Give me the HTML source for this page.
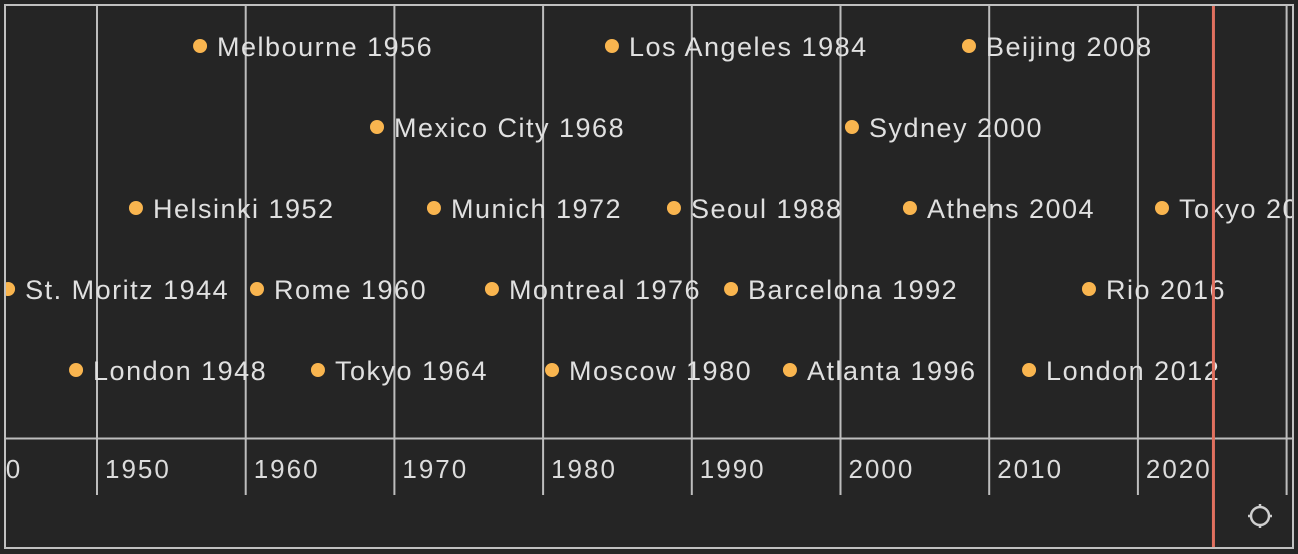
<!DOCTYPE html>
<html><head><meta charset="utf-8"><style>
html,body{margin:0;padding:0;background:#252525;}
svg{display:block;}
text{font-family:"Liberation Sans","DejaVu Sans",sans-serif;}
</style></head><body>
<svg id="chart" width="1298" height="554">
<defs><clipPath id="inner"><rect x="6" y="6" width="1286" height="541"/></clipPath></defs>
<rect x="0" y="0" width="1298" height="554" fill="#252525"/>
<g clip-path="url(#inner)">
<g id="grid"></g>
<g id="items"></g>
<line x1="5" y1="438.5" x2="1293" y2="438.5" stroke="#bdbdbd" stroke-width="2"/>
<g id="axis"></g>
</g>
<line id="now" x1="1214" y1="5" x2="1214" y2="549" stroke="#e0705f" stroke-width="3"/>
<rect x="5" y="5" width="1288" height="543" fill="none" stroke="#c0c0c0" stroke-width="2"/>
<g transform="translate(1260,516)">
<circle r="9" fill="none" stroke="#cfcfcf" stroke-width="2.5"/>
<line x1="0" y1="-12" x2="0" y2="-8" stroke="#cfcfcf" stroke-width="2.5"/>
<line x1="0" y1="8" x2="0" y2="12" stroke="#cfcfcf" stroke-width="2.5"/>
<line x1="-12" y1="0" x2="-8" y2="0" stroke="#cfcfcf" stroke-width="2.5"/>
<line x1="8" y1="0" x2="12" y2="0" stroke="#cfcfcf" stroke-width="2.5"/>
</g>
</svg>
<script>
const names = ["St. Moritz 1944","London 1948","Helsinki 1952","Melbourne 1956","Rome 1960","Tokyo 1964","Mexico City 1968","Munich 1972","Montreal 1976","Moscow 1980","Los Angeles 1984","Seoul 1988","Barcelona 1992","Atlanta 1996","Sydney 2000","Athens 2004","Beijing 2008","London 2012","Rio 2016","Tokyo 2020"];
const dates = [1944.02,1948.59,1952.62,1956.93,1960.76,1964.86,1968.83,1972.66,1976.56,1980.6,1984.63,1988.8,1992.64,1996.6,2000.77,2004.67,2008.64,2012.68,2016.71,2021.62];
const rows = [3,4,2,0,3,4,1,2,3,4,0,2,3,4,1,2,0,4,3,2];
const tickYears = [1940,1950,1960,1970,1980,1990,2000,2010,2020,2030];
const nowYear = 2025.08;

const NS="http://www.w3.org/2000/svg";
const x = y => 97 + (y-1950)*14.87;
const rowY = r => 46 + r*81;
const grid=document.getElementById('grid'), axis=document.getElementById('axis'), items=document.getElementById('items');
document.getElementById('now').setAttribute('x1',x(nowYear));
document.getElementById('now').setAttribute('x2',x(nowYear));
tickYears.forEach(t=>{
  const l=document.createElementNS(NS,'line');
  l.setAttribute('x1',x(t));l.setAttribute('x2',x(t));l.setAttribute('y1',5);l.setAttribute('y2',495);
  l.setAttribute('stroke','#bdbdbd');l.setAttribute('stroke-width','2');
  
  
  grid.appendChild(l);
  const tx=document.createElementNS(NS,'text');
  tx.setAttribute('x',x(t)+8);tx.setAttribute('y',478);
  tx.setAttribute('fill','#dcdcdc');tx.setAttribute('font-size','26');
  tx.setAttribute('letter-spacing','2');
  tx.textContent=t;
  
  
  axis.appendChild(tx);
});
names.forEach((n,i)=>{
  const g=document.createElementNS(NS,'g');
  
  
  const c=document.createElementNS(NS,'circle');
  c.setAttribute('cx',x(dates[i]));c.setAttribute('cy',rowY(rows[i]));c.setAttribute('r',7);
  c.setAttribute('fill','#f9b54f');
  
  
  const t=document.createElementNS(NS,'text');
  t.setAttribute('x',x(dates[i])+17);t.setAttribute('y',rowY(rows[i])+10);
  t.setAttribute('fill','#e0e0e0');t.setAttribute('font-size','27');
  t.setAttribute('letter-spacing','1.5');
  t.textContent=n;
  
  
  g.appendChild(c);g.appendChild(t);items.appendChild(g);
});
</script>
</body></html>
